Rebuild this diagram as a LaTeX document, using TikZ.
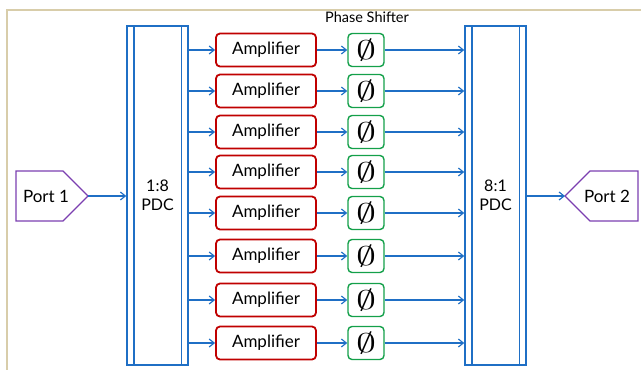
\documentclass[tikz,border=0pt]{standalone}
\usepackage{fontspec}
\setmainfont{Lato}
\usetikzlibrary{arrows.meta}
\definecolor{linkblue}{HTML}{1F6FC5}
\definecolor{ampred}{HTML}{C00000}
\definecolor{phsgreen}{HTML}{14A04A}
\definecolor{portpurple}{HTML}{7B3FB0}
\definecolor{framecol}{HTML}{D8CDAA}
\begin{document}
\begin{tikzpicture}[x=1pt, y=-1pt, >={Straight Barb[length=5pt,width=8pt]},
      link/.style={->, draw=linkblue, line width=1.2pt},
      amp/.style={draw=ampred, line width=1.8pt, rounded corners=4pt, minimum width=100pt, minimum height=33pt, font=\fontsize{17}{19}\selectfont},
      phs/.style={draw=phsgreen, line width=1.4pt, rounded corners=4pt, minimum width=36pt, minimum height=33pt, inner sep=0pt},
      pdc/.style={draw=linkblue, line width=1.4pt, minimum width=61pt, minimum height=339pt, inner sep=0pt, align=center, font=\fontsize{16}{19}\selectfont},
      port/.style={font=\fontsize{17}{19}\selectfont, inner sep=0pt},
      portline/.style={draw=portpurple, line width=1.3pt}]
    \useasboundingbox (0,0) rectangle (641,370);
    \draw[framecol, line width=1.2pt] (7,370) -- (7,10) -- (641,10);
    \node[font=\fontsize{14.5}{16}\selectfont] (phslabel) at (367,17) {Phase Shifter};
    \node[pdc] (pdcin) at (157.5,195.5) {1:8\\PDC};
    \node[pdc] (pdcout) at (495.5,195.5) {8:1\\PDC};
    \draw[linkblue, line width=1.4pt] ([xshift=7.5pt]pdcin.north west) -- ([xshift=7.5pt]pdcin.south west);
    \draw[linkblue, line width=1.4pt] ([xshift=-7.5pt]pdcin.north east) -- ([xshift=-7.5pt]pdcin.south east);
    \draw[linkblue, line width=1.4pt] ([xshift=7.5pt]pdcout.north west) -- ([xshift=7.5pt]pdcout.south west);
    \draw[linkblue, line width=1.4pt] ([xshift=-7.5pt]pdcout.north east) -- ([xshift=-7.5pt]pdcout.south east);
    % ports: pentagon outlines drawn round the labels
    \node[port] (port1) at (46,196) {Port 1};
    \node[port] (port2) at (607,196) {Port 2};
    \draw[portline] (port1.center) ++(-30,-25) -- ++(47,0) -- ++(25,25) coordinate (port1tip) -- ++(-25,25) -- ++(-47,0) -- cycle;
    \draw[portline] (port2.center) ++(31,-25) -- ++(-48,0) -- ++(-25,25) coordinate (port2tip) -- ++(25,25) -- ++(48,0) -- cycle;
    \draw[link] (port1tip) -- (port1tip -| pdcin.west);
    \draw[link] (port2tip -| pdcout.east) -- (port2tip);
    \foreach \i/\y in {1/50, 2/91, 3/132, 4/172, 5/213, 6/256, 7/300, 8/343} {
      \node[amp] (amp\i) at (266,\y) {Amplifier};
      \node[phs] (phs\i) at (366,\y) {\scalebox{4}[2.7]{$\emptyset$}};
      \draw[link] (amp\i.west -| pdcin.east) -- (amp\i.west);
      \draw[link] (amp\i) -- (phs\i);
      \draw[link] (phs\i.east) -- (phs\i.east -| pdcout.west);
    }
  \end{tikzpicture}
\end{document}
